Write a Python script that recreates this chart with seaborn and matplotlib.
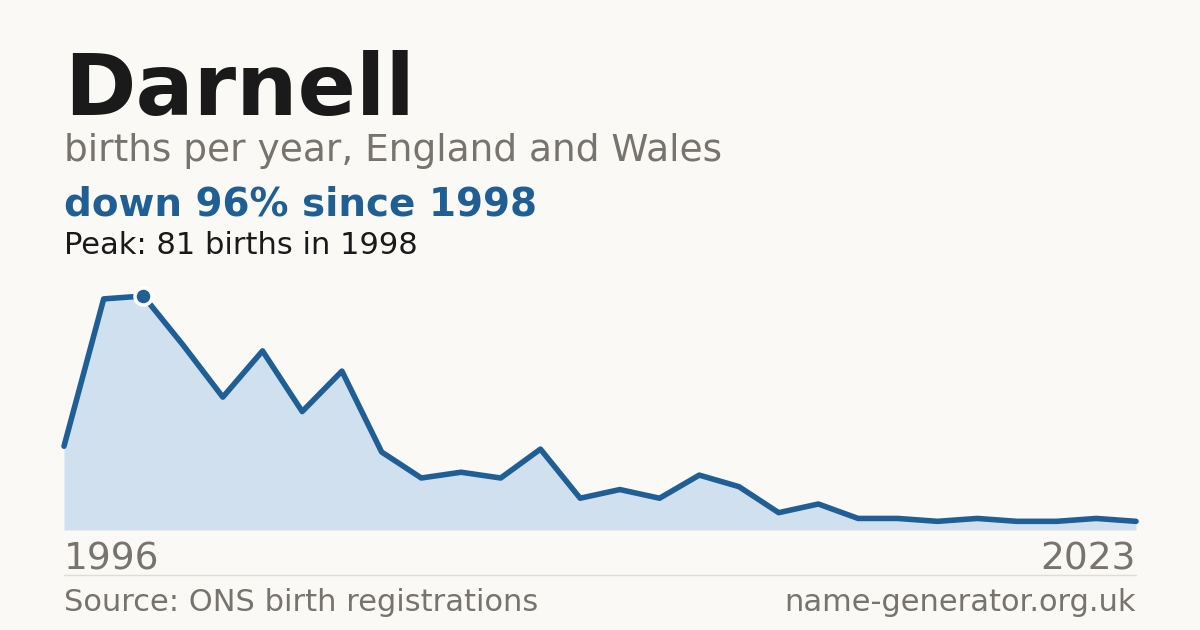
import matplotlib
matplotlib.use("Agg")
import matplotlib.pyplot as plt
import seaborn as sns
import pandas as pd

years = list(range(1996, 2024))
births = [29, 80, 81, 64, 46, 62, 41, 55, 27, 18, 20, 18, 28, 11, 14, 11, 19, 15, 6, 9, 4, 4, 3, 4, 3, 3, 4, 3]
df = pd.DataFrame({"year": years, "births": births})

bg = "#faf9f5"
blue = "#1f5f95"
fill = "#d0e0ef"
grey = "#77746f"

sns.set_theme(style="white")
plt.rcParams['font.family'] = ['DejaVu Sans']
fig = plt.figure(figsize=(12, 6.3), dpi=100, facecolor=bg)
H = 630
ax = fig.add_axes([64/1200, (H-530)/H, 1072/1200, 234/H])
ax.set_facecolor(bg)
ax.fill_between(df.year, df.births, 0, color=fill, lw=0)
sns.lineplot(data=df, x="year", y="births", ax=ax, color=blue, lw=4, clip_on=False)
pk = df.births.idxmax()
ax.scatter([df.year[pk]], [df.births[pk]], s=150, color=blue, edgecolor="white", linewidth=2.5, zorder=5, clip_on=False)
ax.set_xlim(1996, 2023)
ax.set_ylim(0, 81)
ax.axis("off")

def t(x, y, s, size, color, weight="normal", ha="left"):
    fig.text(x/1200, (H-y)/H, s, fontsize=size, color=color, fontweight=weight, ha=ha, va="baseline")

t(64, 115, "Darnell", 62, "#1a1a1a", "bold")
t(64, 161, "births per year, England and Wales", 27, grey)
t(64, 215, "down 96% since 1998", 28, blue, "bold")
t(64, 254, "Peak: 81 births in 1998", 22, "#1a1a1a")
t(64, 570, "1996", 27, grey)
t(1136, 570, "2023", 27, grey, ha="right")
t(64, 611, "Source: ONS birth registrations", 22, grey)
t(1136, 611, "name-generator.org.uk", 22, grey, ha="right")
fig.add_artist(plt.Line2D([64/1200, 1136/1200], [(H-575)/H]*2, color="#e0ddd6", lw=1))

fig.savefig("out.png", dpi=100, facecolor=bg)
